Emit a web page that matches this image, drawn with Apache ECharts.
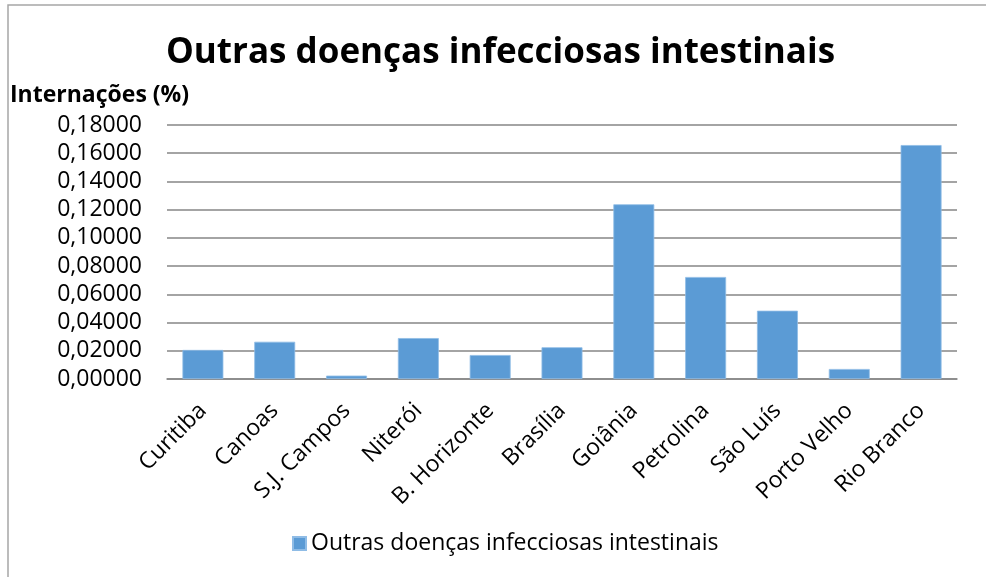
<!DOCTYPE html>
<html>
<head>
<meta charset="utf-8">
<script src="https://cdn.jsdelivr.net/npm/echarts@6/dist/echarts.min.js"></script>
<style>
  html, body { margin: 0; padding: 0; background: #fff; }
  #chart { width: 986px; height: 577px; }
</style>
</head>
<body>
<div id="chart"></div>
<script>
// Hospitalisation share by city, other intestinal infectious diseases
const cities = ['Curitiba', 'Canoas', 'S.J. Campos', 'Niterói', 'B. Horizonte', 'Brasília',
  'Goiânia', 'Petrolina', 'São Luís', 'Porto Velho', 'Rio Branco'];
const internacoes = [0.0206, 0.0264, 0.0024, 0.0290, 0.0170, 0.0225,
  0.1238, 0.0723, 0.0484, 0.0071, 0.1658];
const seriesName = 'Outras doenças infecciosas intestinais';
const yAxisMax = 0.18;
const yAxisStep = 0.02;

const FONT = '"Open Sans", "Noto Sans", sans-serif';
const chart = echarts.init(document.getElementById('chart'), null, { renderer: 'canvas' });

chart.setOption({
  animation: false,
  backgroundColor: '#ffffff',
  textStyle: { fontFamily: FONT },
  graphic: [{
    type: 'rect',
    shape: { x: 8, y: 5, width: 1000, height: 600 },
    style: { fill: 'none', stroke: '#a6a6a6', lineWidth: 1.5 },
    silent: true
  }],
  title: {
    text: seriesName,
    left: 161,
    top: 31,
    textStyle: { fontFamily: FONT, fontSize: 35, fontWeight: 'bold', color: '#000' }
  },
  grid: { left: 167, right: 29, top: 125, bottom: 198, containLabel: false },
  legend: {
    data: [seriesName],
    bottom: 22,
    left: 292,
    padding: 0,
    itemWidth: 13,
    itemHeight: 13,
    itemGap: 6,
    icon: 'rect',
    textStyle: { fontFamily: FONT, fontSize: 23, color: '#000' }
  },
  xAxis: {
    type: 'category',
    data: cities,
    axisTick: { show: false },
    axisLine: { show: true, lineStyle: { color: '#868686', width: 1.5 } },
    axisLabel: {
      interval: 0,
      rotate: 45,
      margin: 28,
      fontFamily: FONT,
      fontSize: 23,
      color: '#000'
    }
  },
  yAxis: {
    type: 'value',
    min: 0,
    max: yAxisMax,
    interval: yAxisStep,
    name: 'Internações (%)',
    nameLocation: 'end',
    nameGap: 18,
    nameTextStyle: {
      fontFamily: FONT, fontSize: 23, fontWeight: 'bold', color: '#000',
      align: 'left', padding: [0, 0, 0, -157]
    },
    axisLine: { show: false },
    axisTick: { show: false },
    splitLine: { lineStyle: { color: '#868686', width: 1.5 } },
    axisLabel: {
      margin: 25,
      fontFamily: FONT,
      fontSize: 23,
      color: '#000',
      formatter: v => v.toFixed(5).replace('.', ',')
    }
  },
  series: [{
    name: seriesName,
    type: 'bar',
    data: internacoes,
    barCategoryGap: '43%',
    itemStyle: { color: '#5b9bd5', borderColor: '#8fbce6', borderWidth: 0.8 }
  }]
});
</script>
</body>
</html>
